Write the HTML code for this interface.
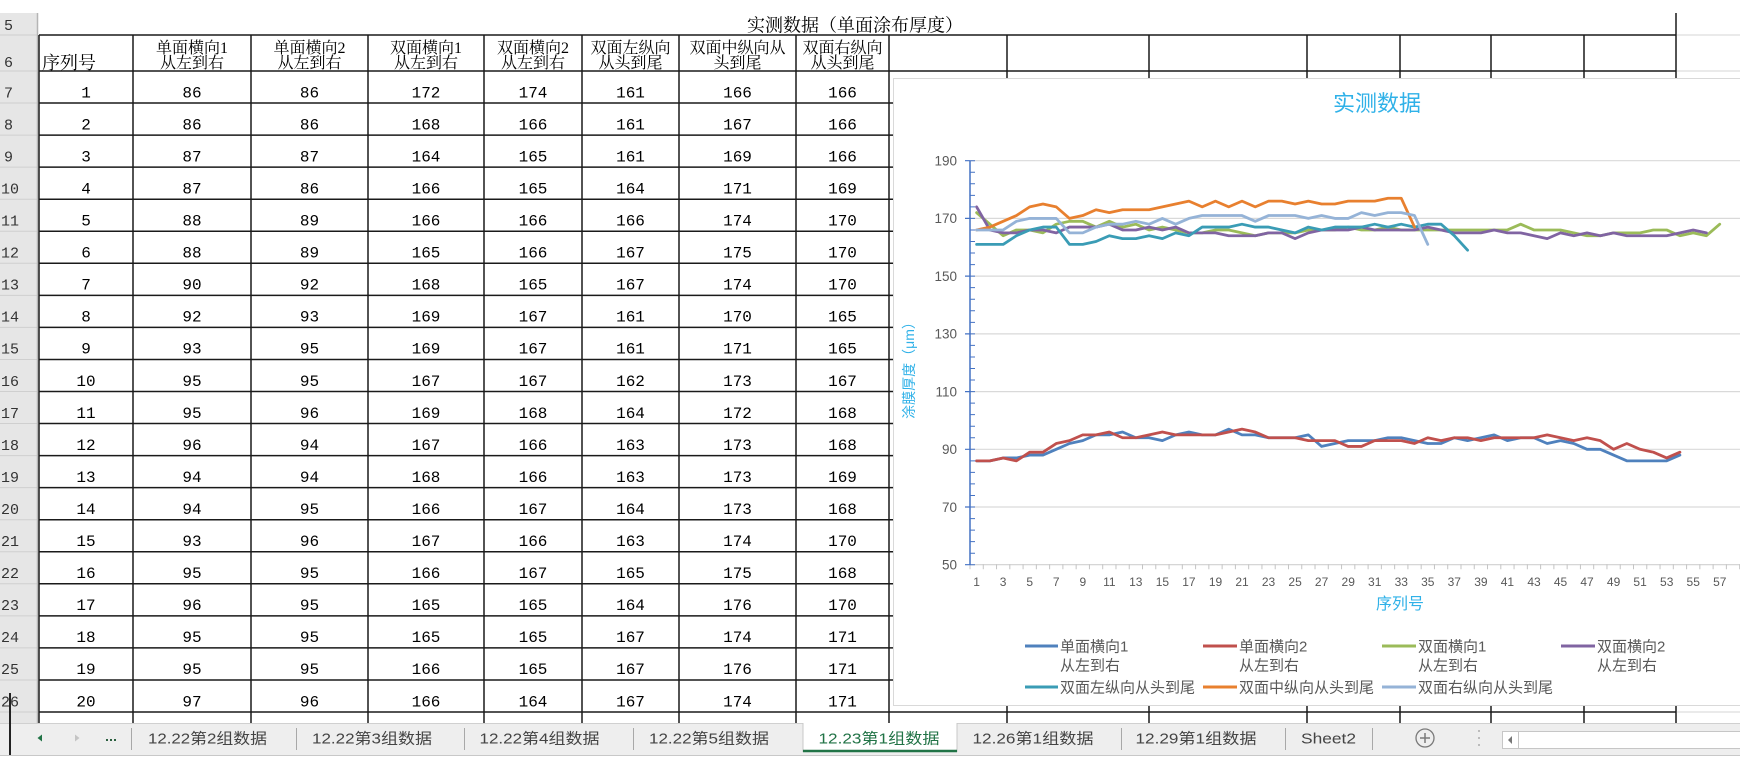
<!DOCTYPE html>
<html>
<head>
<meta charset="utf-8">
<style>
  html,body{margin:0;padding:0;background:#fff;}
  body{width:1749px;height:770px;overflow:hidden;}
  svg{display:block;}
  .d{font-family:"Liberation Mono",monospace;font-size:16px;fill:#000;text-anchor:middle;}
  .rh{font-family:"Liberation Mono",monospace;font-size:15px;fill:#333;}
  .hd{font-family:"Liberation Serif","Noto Serif CJK SC",serif;font-size:16px;fill:#000;text-anchor:middle;}
  .ttl{font-family:"Liberation Serif","Noto Serif CJK SC",serif;font-size:18px;fill:#000;text-anchor:middle;}
  .ax{font-family:"Liberation Sans",sans-serif;font-size:12px;fill:#595959;text-anchor:middle;}
  .ay{font-family:"Liberation Sans",sans-serif;font-size:13.5px;fill:#595959;text-anchor:end;}
  .ct{font-family:"Liberation Sans","Noto Sans CJK SC",sans-serif;fill:#2FB1E8;text-anchor:middle;}
  .lg{font-family:"Liberation Sans","Noto Sans CJK SC",sans-serif;font-size:15px;fill:#595959;}
  .tab{font-family:"Liberation Sans","Noto Sans CJK SC",sans-serif;font-size:15px;fill:#444;text-anchor:middle;}
  .s{fill:none;stroke-width:2.8;stroke-linejoin:round;stroke-linecap:round;}
</style>
</head>
<body>
<svg width="1749" height="770" viewBox="0 0 1749 770" xmlns="http://www.w3.org/2000/svg">
  <rect x="0" y="0" width="1749" height="770" fill="#fff"/>

  <!-- row header column -->
  <rect x="0" y="13" width="38" height="710" fill="#e6e6e6"/>
  <path d="M0 35H38M0 71H38M0 103.05H38M0 135.1H38M0 167.15H38M0 199.2H38M0 231.25H38M0 263.3H38M0 295.35H38M0 327.4H38M0 359.45H38M0 391.5H38M0 423.55H38M0 455.6H38M0 487.65H38M0 519.7H38M0 551.75H38M0 583.8H38M0 615.85H38M0 647.9H38M0 679.95H38M0 712H38" stroke="#cfcfcf" stroke-width="1"/>
  <line x1="37.5" y1="13" x2="37.5" y2="723" stroke="#b5b5b5" stroke-width="1.5"/>

  <!-- light gridlines beyond table -->
  <path d="M1677 35H1740M1677 71H1740M1677 712H1740" stroke="#d4d4d4" stroke-width="1"/>

  <!-- table lines -->
  <path d="M39 35H1676M39 71H1676M39 103.05H1676M39 135.1H1676M39 167.15H1676M39 199.2H1676M39 231.25H1676M39 263.3H1676M39 295.35H1676M39 327.4H1676M39 359.45H1676M39 391.5H1676M39 423.55H1676M39 455.6H1676M39 487.65H1676M39 519.7H1676M39 551.75H1676M39 583.8H1676M39 615.85H1676M39 647.9H1676M39 679.95H1676M39 712H1676
  M39 35V723M133 35V723M251 35V723M368 35V723M484 35V723M582 35V723M679 35V723M796 35V723M889 35V723M1007 35V723M1149 35V723M1307 35V723M1400 35V723M1491 35V723M1584 35V723M1676 13V723" stroke="#1a1a1a" stroke-width="1.5" fill="none"/>

  <!-- title row 5 -->
  <text class="ttl" x="855" y="31.3">实测数据（单面涂布厚度）</text>

  <!-- header row 6 -->
  <text x="42" y="68.8" style="font-family:'Liberation Serif','Noto Serif CJK SC',serif;font-size:18px;fill:#000;">序列号</text>
  <text class="hd" y="53"><tspan x="192">单面横向1</tspan><tspan x="309.5">单面横向2</tspan><tspan x="426">双面横向1</tspan><tspan x="533">双面横向2</tspan><tspan x="630.5">双面左纵向</tspan><tspan x="737.5">双面中纵向从</tspan><tspan x="842.5">双面右纵向</tspan></text>
  <text class="hd" y="68"><tspan x="192">从左到右</tspan><tspan x="309.5">从左到右</tspan><tspan x="426">从左到右</tspan><tspan x="533">从左到右</tspan><tspan x="630.5">从头到尾</tspan><tspan x="737.5">头到尾</tspan><tspan x="842.5">从头到尾</tspan></text>

  <!-- row header labels -->
  <g class="rh">
    <text x="4" y="30">5</text>
    <text x="4" y="67">6</text>
    <text x="4" y="97.3">7</text>
    <text x="4" y="129.35">8</text>
    <text x="4" y="161.4">9</text>
    <text x="1" y="193.45">10</text>
    <text x="1" y="225.5">11</text>
    <text x="1" y="257.55">12</text>
    <text x="1" y="289.6">13</text>
    <text x="1" y="321.65">14</text>
    <text x="1" y="353.7">15</text>
    <text x="1" y="385.75">16</text>
    <text x="1" y="417.8">17</text>
    <text x="1" y="449.85">18</text>
    <text x="1" y="481.9">19</text>
    <text x="1" y="513.95">20</text>
    <text x="1" y="546">21</text>
    <text x="1" y="578.05">22</text>
    <text x="1" y="610.1">23</text>
    <text x="1" y="642.15">24</text>
    <text x="1" y="674.2">25</text>
    <text x="1" y="706.25">26</text>
  </g>

  <!-- data cells -->
  <g class="d">
    <text y="97.3"><tspan x="86">1</tspan><tspan x="192">86</tspan><tspan x="309.5">86</tspan><tspan x="426">172</tspan><tspan x="533">174</tspan><tspan x="630.5">161</tspan><tspan x="737.5">166</tspan><tspan x="842.5">166</tspan></text>
    <text y="129.35"><tspan x="86">2</tspan><tspan x="192">86</tspan><tspan x="309.5">86</tspan><tspan x="426">168</tspan><tspan x="533">166</tspan><tspan x="630.5">161</tspan><tspan x="737.5">167</tspan><tspan x="842.5">166</tspan></text>
    <text y="161.4"><tspan x="86">3</tspan><tspan x="192">87</tspan><tspan x="309.5">87</tspan><tspan x="426">164</tspan><tspan x="533">165</tspan><tspan x="630.5">161</tspan><tspan x="737.5">169</tspan><tspan x="842.5">166</tspan></text>
    <text y="193.45"><tspan x="86">4</tspan><tspan x="192">87</tspan><tspan x="309.5">86</tspan><tspan x="426">166</tspan><tspan x="533">165</tspan><tspan x="630.5">164</tspan><tspan x="737.5">171</tspan><tspan x="842.5">169</tspan></text>
    <text y="225.5"><tspan x="86">5</tspan><tspan x="192">88</tspan><tspan x="309.5">89</tspan><tspan x="426">166</tspan><tspan x="533">166</tspan><tspan x="630.5">166</tspan><tspan x="737.5">174</tspan><tspan x="842.5">170</tspan></text>
    <text y="257.55"><tspan x="86">6</tspan><tspan x="192">88</tspan><tspan x="309.5">89</tspan><tspan x="426">165</tspan><tspan x="533">166</tspan><tspan x="630.5">167</tspan><tspan x="737.5">175</tspan><tspan x="842.5">170</tspan></text>
    <text y="289.6"><tspan x="86">7</tspan><tspan x="192">90</tspan><tspan x="309.5">92</tspan><tspan x="426">168</tspan><tspan x="533">165</tspan><tspan x="630.5">167</tspan><tspan x="737.5">174</tspan><tspan x="842.5">170</tspan></text>
    <text y="321.65"><tspan x="86">8</tspan><tspan x="192">92</tspan><tspan x="309.5">93</tspan><tspan x="426">169</tspan><tspan x="533">167</tspan><tspan x="630.5">161</tspan><tspan x="737.5">170</tspan><tspan x="842.5">165</tspan></text>
    <text y="353.7"><tspan x="86">9</tspan><tspan x="192">93</tspan><tspan x="309.5">95</tspan><tspan x="426">169</tspan><tspan x="533">167</tspan><tspan x="630.5">161</tspan><tspan x="737.5">171</tspan><tspan x="842.5">165</tspan></text>
    <text y="385.75"><tspan x="86">10</tspan><tspan x="192">95</tspan><tspan x="309.5">95</tspan><tspan x="426">167</tspan><tspan x="533">167</tspan><tspan x="630.5">162</tspan><tspan x="737.5">173</tspan><tspan x="842.5">167</tspan></text>
    <text y="417.8"><tspan x="86">11</tspan><tspan x="192">95</tspan><tspan x="309.5">96</tspan><tspan x="426">169</tspan><tspan x="533">168</tspan><tspan x="630.5">164</tspan><tspan x="737.5">172</tspan><tspan x="842.5">168</tspan></text>
    <text y="449.85"><tspan x="86">12</tspan><tspan x="192">96</tspan><tspan x="309.5">94</tspan><tspan x="426">167</tspan><tspan x="533">166</tspan><tspan x="630.5">163</tspan><tspan x="737.5">173</tspan><tspan x="842.5">168</tspan></text>
    <text y="481.9"><tspan x="86">13</tspan><tspan x="192">94</tspan><tspan x="309.5">94</tspan><tspan x="426">168</tspan><tspan x="533">166</tspan><tspan x="630.5">163</tspan><tspan x="737.5">173</tspan><tspan x="842.5">169</tspan></text>
    <text y="513.95"><tspan x="86">14</tspan><tspan x="192">94</tspan><tspan x="309.5">95</tspan><tspan x="426">166</tspan><tspan x="533">167</tspan><tspan x="630.5">164</tspan><tspan x="737.5">173</tspan><tspan x="842.5">168</tspan></text>
    <text y="546"><tspan x="86">15</tspan><tspan x="192">93</tspan><tspan x="309.5">96</tspan><tspan x="426">167</tspan><tspan x="533">166</tspan><tspan x="630.5">163</tspan><tspan x="737.5">174</tspan><tspan x="842.5">170</tspan></text>
    <text y="578.05"><tspan x="86">16</tspan><tspan x="192">95</tspan><tspan x="309.5">95</tspan><tspan x="426">166</tspan><tspan x="533">167</tspan><tspan x="630.5">165</tspan><tspan x="737.5">175</tspan><tspan x="842.5">168</tspan></text>
    <text y="610.1"><tspan x="86">17</tspan><tspan x="192">96</tspan><tspan x="309.5">95</tspan><tspan x="426">165</tspan><tspan x="533">165</tspan><tspan x="630.5">164</tspan><tspan x="737.5">176</tspan><tspan x="842.5">170</tspan></text>
    <text y="642.15"><tspan x="86">18</tspan><tspan x="192">95</tspan><tspan x="309.5">95</tspan><tspan x="426">165</tspan><tspan x="533">165</tspan><tspan x="630.5">167</tspan><tspan x="737.5">174</tspan><tspan x="842.5">171</tspan></text>
    <text y="674.2"><tspan x="86">19</tspan><tspan x="192">95</tspan><tspan x="309.5">95</tspan><tspan x="426">166</tspan><tspan x="533">165</tspan><tspan x="630.5">167</tspan><tspan x="737.5">176</tspan><tspan x="842.5">171</tspan></text>
    <text y="706.25"><tspan x="86">20</tspan><tspan x="192">97</tspan><tspan x="309.5">96</tspan><tspan x="426">166</tspan><tspan x="533">164</tspan><tspan x="630.5">167</tspan><tspan x="737.5">174</tspan><tspan x="842.5">171</tspan></text>
  </g>

  <!-- ===== CHART ===== -->
  <rect x="893.5" y="78.5" width="900" height="627" fill="#fff" stroke="#d9d9d9" stroke-width="1"/>
  <text class="ct" x="1377" y="111" style="font-size:22px;">实测数据</text>

  <!-- gridlines -->
  <path d="M970 160.7H1740M970 218.4H1740M970 276.1H1740M970 333.9H1740M970 391.6H1740M970 449.3H1740M970 507H1740" stroke="#d9d9d9" stroke-width="1.2"/>
  <!-- x axis -->
  <line x1="970" y1="564.7" x2="1740" y2="564.7" stroke="#d0d0d0" stroke-width="1.2"/>
  <line x1="969.5" y1="566.7" x2="1740" y2="566.7" stroke="#c4c4c4" stroke-width="5" stroke-dasharray="1 12.27"/>
  <!-- y axis -->
  <line x1="970" y1="160.7" x2="970" y2="564.7" stroke="#4472C4" stroke-width="1.5"/>
  <line x1="972.5" y1="160.2" x2="972.5" y2="565.2" stroke="#4472C4" stroke-width="5" stroke-dasharray="1 10.544"/>
  <path d="M965 160.7H970M965 218.4H970M965 276.1H970M965 333.9H970M965 391.6H970M965 449.3H970M965 507H970M965 564.7H970" stroke="#4472C4" stroke-width="1.2"/>

  <!-- y labels -->
  <g class="ay">
    <text x="957" y="165.5">190</text>
    <text x="957" y="223.2">170</text>
    <text x="957" y="280.9">150</text>
    <text x="957" y="338.7">130</text>
    <text x="957" y="396.4">110</text>
    <text x="957" y="454.1">90</text>
    <text x="957" y="511.8">70</text>
    <text x="957" y="569.5">50</text>
  </g>

  <!-- x labels -->
  <text class="ax" y="586"><tspan x="976.6">1</tspan><tspan x="1003.1">3</tspan><tspan x="1029.7">5</tspan><tspan x="1056.2">7</tspan><tspan x="1082.8">9</tspan><tspan x="1109.3">11</tspan><tspan x="1135.8">13</tspan><tspan x="1162.4">15</tspan><tspan x="1188.9">17</tspan><tspan x="1215.5">19</tspan><tspan x="1242">21</tspan><tspan x="1268.5">23</tspan><tspan x="1295.1">25</tspan><tspan x="1321.6">27</tspan><tspan x="1348.2">29</tspan><tspan x="1374.7">31</tspan><tspan x="1401.3">33</tspan><tspan x="1427.8">35</tspan><tspan x="1454.3">37</tspan><tspan x="1480.9">39</tspan><tspan x="1507.4">41</tspan><tspan x="1534">43</tspan><tspan x="1560.5">45</tspan><tspan x="1587">47</tspan><tspan x="1613.6">49</tspan><tspan x="1640.1">51</tspan><tspan x="1666.7">53</tspan><tspan x="1693.2">55</tspan><tspan x="1719.8">57</tspan><tspan x="1746.3">59</tspan></text>

  <!-- axis titles -->
  <text class="ct" x="1400" y="609" style="font-size:16px;">序列号</text>
  <text class="ct" transform="translate(909,367) rotate(-90)" y="5" style="font-size:14px;">涂膜厚度（μm）</text>

  <!-- series -->
  <g transform="translate(976.6,709.04) scale(13.27,-2.886)">
    <polyline class="s" vector-effect="non-scaling-stroke" stroke="#4F81BD" points="0,86 1,86 2,87 3,87 4,88 5,88 6,90 7,92 8,93 9,95 10,95 11,96 12,94 13,94 14,93 15,95 16,96 17,95 18,95 19,97 20,95 21,95 22,94 23,94 24,94 25,95 26,91 27,92 28,93 29,93 30,93 31,94 32,94 33,93 34,92 35,92 36,94 37,93 38,94 39,95 40,93 41,94 42,94 43,92 44,93 45,92 46,90 47,90 48,88 49,86 50,86 51,86 52,86 53,88"/>
    <polyline class="s" vector-effect="non-scaling-stroke" stroke="#C0504D" points="0,86 1,86 2,87 3,86 4,89 5,89 6,92 7,93 8,95 9,95 10,96 11,94 12,94 13,95 14,96 15,95 16,95 17,95 18,95 19,96 20,97 21,96 22,94 23,94 24,94 25,93 26,93 27,93 28,91 29,91 30,93 31,93 32,93 33,92 34,94 35,93 36,94 37,94 38,93 39,94 40,94 41,94 42,94 43,95 44,94 45,93 46,94 47,93 48,90 49,92 50,90 51,89 52,87 53,89"/>
    <polyline class="s" vector-effect="non-scaling-stroke" stroke="#9BBB59" points="0,172 1,168 2,164 3,166 4,166 5,165 6,168 7,169 8,169 9,167 10,169 11,167 12,168 13,166 14,167 15,166 16,165 17,165 18,166 19,166 20,165 21,164 22,165 23,165 24,165 25,166 26,166 27,166 28,167 29,166 30,166 31,167 32,166 33,166 34,166 35,166 36,166 37,166 38,166 39,166 40,166 41,168 42,166 43,166 44,166 45,165 46,164 47,164 48,165 49,165 50,165 51,166 52,166 53,164 54,165 55,164 56,168"/>
    <polyline class="s" vector-effect="non-scaling-stroke" stroke="#8064A2" points="0,174 1,166 2,165 3,165 4,166 5,166 6,165 7,167 8,167 9,167 10,168 11,166 12,166 13,167 14,166 15,167 16,165 17,165 18,165 19,164 20,164 21,164 22,165 23,165 24,163 25,165 26,166 27,166 28,166 29,167 30,166 31,166 32,166 33,166 34,167 35,166 36,165 37,165 38,165 39,166 40,165 41,165 42,164 43,163 44,165 45,164 46,165 47,164 48,165 49,164 50,164 51,164 52,164 53,165 54,166 55,165"/>
    <polyline class="s" vector-effect="non-scaling-stroke" stroke="#3A9CB5" points="0,161 1,161 2,161 3,164 4,166 5,167 6,167 7,161 8,161 9,162 10,164 11,163 12,163 13,164 14,163 15,165 16,164 17,167 18,167 19,167 20,168 21,167 22,167 23,166 24,165 25,167 26,166 27,167 28,167 29,167 30,168 31,167 32,168 33,167 34,168 35,168 36,164 37,159"/>
    <polyline class="s" vector-effect="non-scaling-stroke" stroke="#E8802F" points="0,166 1,167 2,169 3,171 4,174 5,175 6,174 7,170 8,171 9,173 10,172 11,173 12,173 13,173 14,174 15,175 16,176 17,174 18,176 19,174 20,176 21,174 22,176 23,176 24,175 25,176 26,175 27,175 28,176 29,176 30,176 31,177 32,177 33,167"/>
    <polyline class="s" vector-effect="non-scaling-stroke" stroke="#95B3D7" points="0,166 1,166 2,166 3,169 4,170 5,170 6,170 7,165 8,165 9,167 10,168 11,168 12,169 13,168 14,170 15,168 16,170 17,171 18,171 19,171 20,171 21,169 22,171 23,171 24,171 25,170 26,171 27,170 28,170 29,172 30,171 31,172 32,172 33,171 34,161"/>
  </g>

  <!-- legend -->
  <g stroke-width="3">
    <line x1="1025" y1="646" x2="1058" y2="646" stroke="#4F81BD"/>
    <line x1="1203" y1="646" x2="1237" y2="646" stroke="#C0504D"/>
    <line x1="1382" y1="646" x2="1416" y2="646" stroke="#9BBB59"/>
    <line x1="1561" y1="646" x2="1595" y2="646" stroke="#8064A2"/>
    <line x1="1025" y1="687" x2="1058" y2="687" stroke="#3A9CB5"/>
    <line x1="1203" y1="687" x2="1237" y2="687" stroke="#E8802F"/>
    <line x1="1382" y1="687" x2="1416" y2="687" stroke="#95B3D7"/>
  </g>
  <g class="lg">
    <text x="1060" y="651.5">单面横向1</text>
    <text x="1060" y="670.5">从左到右</text>
    <text x="1239" y="651.5">单面横向2</text>
    <text x="1239" y="670.5">从左到右</text>
    <text x="1418" y="651.5">双面横向1</text>
    <text x="1418" y="670.5">从左到右</text>
    <text x="1597" y="651.5">双面横向2</text>
    <text x="1597" y="670.5">从左到右</text>
    <text x="1060" y="692.5">双面左纵向从头到尾</text>
    <text x="1239" y="692.5">双面中纵向从头到尾</text>
    <text x="1418" y="692.5">双面右纵向从头到尾</text>
  </g>

  <!-- ===== TAB BAR ===== -->
  <rect x="0" y="723" width="1749" height="32" fill="#eeeeee"/>
  <line x1="0" y1="723.5" x2="1749" y2="723.5" stroke="#d0d0d0" stroke-width="1"/>
  <line x1="0" y1="755.5" x2="1749" y2="755.5" stroke="#c8c8c8" stroke-width="1"/>
  <line x1="10" y1="693" x2="10" y2="755" stroke="#222" stroke-width="2"/>
  <!-- nav -->
  <polygon points="42,734.5 37.5,738 42,741.5" fill="#217346"/>
  <polygon points="75,734.5 79.5,738 75,741.5" fill="#c4c4c4"/>
  <rect x="106" y="739" width="2" height="2" fill="#2b5f3f"/>
  <rect x="110" y="739" width="2" height="2" fill="#2b5f3f"/>
  <rect x="114" y="739" width="2" height="2" fill="#2b5f3f"/>
  <!-- separators -->
  <path d="M131.5 728V750M296.5 728V750M464.5 728V750M633.5 728V750M1121.5 728V750M1285.5 728V750M1372.5 728V750" stroke="#a8a8a8" stroke-width="1"/>
  <!-- active tab -->
  <rect x="803" y="723" width="154" height="29" fill="#fff"/>
  <path d="M803 723V752M957 723V752" stroke="#c8c8c8" stroke-width="1"/>
  <line x1="803" y1="751" x2="957" y2="751" stroke="#217346" stroke-width="2.5"/>
  <!-- tab labels -->
  <text class="tab" x="207.5" y="743.5" textLength="119" lengthAdjust="spacingAndGlyphs">12.22第2组数据</text>
  <text class="tab" x="372" y="743.5" textLength="120" lengthAdjust="spacingAndGlyphs">12.22第3组数据</text>
  <text class="tab" x="539.5" y="743.5" textLength="120" lengthAdjust="spacingAndGlyphs">12.22第4组数据</text>
  <text class="tab" x="709" y="743.5" textLength="120" lengthAdjust="spacingAndGlyphs">12.22第5组数据</text>
  <text class="tab" x="879" y="743.5" textLength="121" lengthAdjust="spacingAndGlyphs" style="fill:#217346;">12.23第1组数据</text>
  <text class="tab" x="1033" y="743.5" textLength="121" lengthAdjust="spacingAndGlyphs">12.26第1组数据</text>
  <text class="tab" x="1196" y="743.5" textLength="121" lengthAdjust="spacingAndGlyphs">12.29第1组数据</text>
  <text class="tab" x="1328.5" y="743.5" textLength="55" lengthAdjust="spacingAndGlyphs">Sheet2</text>
  <!-- add sheet -->
  <circle cx="1425" cy="738" r="9" fill="none" stroke="#7a7a7a" stroke-width="1.3"/>
  <path d="M1420 738H1430M1425 733V743" stroke="#7a7a7a" stroke-width="1.5"/>
  <!-- vertical dots -->
  <circle cx="1479" cy="731" r="1" fill="#aaa"/>
  <circle cx="1479" cy="738" r="1" fill="#aaa"/>
  <circle cx="1479" cy="745" r="1" fill="#aaa"/>
  <!-- scrollbar -->
  <rect x="1502.5" y="731.5" width="240" height="17" fill="#fff" stroke="#c6c6c6" stroke-width="1"/>
  <line x1="1518.5" y1="732" x2="1518.5" y2="748" stroke="#c6c6c6" stroke-width="1"/>
  <polygon points="1512,736 1508,740 1512,744" fill="#777"/>

  <!-- right clip -->
  <rect x="1740" y="0" width="9" height="770" fill="#fff"/>
</svg>
</body>
</html>
